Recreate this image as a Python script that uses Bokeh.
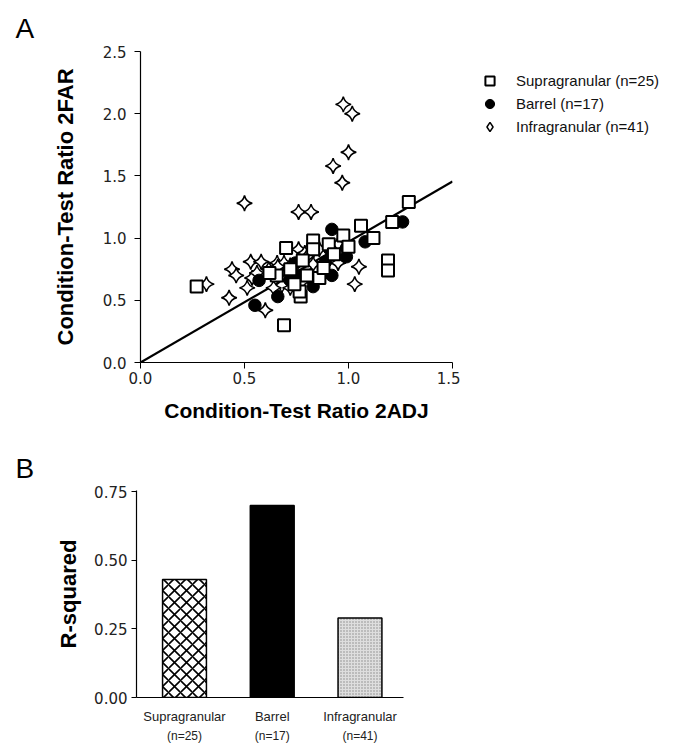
from bokeh.plotting import figure
from bokeh.layouts import column, row
from bokeh.models import (Legend, LegendItem, LinearAxis, FixedTicker,
                          NumeralTickFormatter, Range1d, Title)
from bokeh.embed import file_html
from bokeh.resources import INLINE

# ---------------- data (panel A) ----------------
supra_x = [0.27, 0.69, 0.70, 0.655, 0.83, 0.83, 0.77, 0.765, 0.975, 1.06, 1.12, 1.21, 1.29,
           1.19, 1.19, 0.905, 0.72, 0.78, 0.86, 0.93, 0.74, 0.62, 0.88, 1.00, 0.80]
supra_y = [0.61, 0.30, 0.92, 0.70, 0.98, 0.91, 0.53, 0.57, 1.02, 1.10, 1.00, 1.13, 1.29,
           0.82, 0.74, 0.95, 0.75, 0.82, 0.68, 0.87, 0.63, 0.72, 0.76, 0.93, 0.70]

barrel_x = [0.55, 0.57, 0.66, 0.72, 0.745, 0.76, 0.79, 0.83, 0.83, 0.89, 0.92, 0.91, 0.92,
            0.99, 0.99, 1.08, 1.26]
barrel_y = [0.46, 0.66, 0.53, 0.66, 0.80, 0.70, 0.70, 0.61, 0.66, 0.81, 1.07, 0.91, 0.70,
            0.85, 0.92, 0.97, 1.13]

infra_x = [0.975, 1.018, 1.00, 0.926, 0.97, 0.50, 0.76, 0.82, 0.317, 0.44, 0.46, 0.53, 0.58,
           0.617, 0.657, 0.69, 0.513, 0.426, 0.537, 0.60, 0.76, 1.05, 1.03, 0.777, 0.56,
           0.72, 0.79, 0.80, 0.70, 0.74, 0.85, 0.88, 0.68, 0.64, 0.72, 0.95, 0.90, 0.66,
           0.83, 0.95, 0.86]
infra_y = [2.075, 2.00, 1.69, 1.58, 1.445, 1.28, 1.21, 1.21, 0.63, 0.75, 0.70, 0.81, 0.81,
           0.75, 0.80, 0.80, 0.60, 0.52, 0.68, 0.42, 0.91, 0.77, 0.63, 0.65, 0.72,
           0.78, 0.88, 0.85, 0.72, 0.68, 0.75, 0.72, 0.62, 0.60, 0.60, 0.95, 0.93, 0.77,
           0.79, 0.80, 0.91]

fit_x = [0.0, 1.5]
fit_y = [0.0, 1.455]

legend_labels = ["Supragranular (n=25)", "Barrel (n=17)", "Infragranular (n=41)"]

# ---------------- data (panel B) ----------------
categories = ["Supragranular", "Barrel", "Infragranular"]
n_labels = ["(n=25)", "(n=17)", "(n=41)"]
r_squared = [0.43, 0.70, 0.29]
cat_pos = [0, 1, 2]

TICK_FONT = "DejaVu Sans"
LABEL_FONT = "Liberation Sans"

SUP_STYLE = dict(marker="square", fill_color="white", line_color="black", line_width=2)
BAR_STYLE = dict(marker="circle", fill_color="black", line_color="black")
INF_STYLE = dict(fill_color="white", line_color="black", line_width=1.5)

# ---------------- panel A ----------------
p = figure(width=460, height=440, x_range=Range1d(0, 1.5), y_range=Range1d(0, 2.5),
           output_backend="svg", toolbar_location=None,
           min_border_left=140, min_border_right=8, min_border_top=51, min_border_bottom=78)
p.frame_align = False
p.outline_line_color = None
p.grid.visible = False
p.title = Title(text="A", align="left", offset=-125, standoff=16,
                text_font=LABEL_FONT, text_font_size="28px",
                text_font_style="normal", text_color="black")

p.xaxis.ticker = FixedTicker(ticks=[0, 0.5, 1.0, 1.5])
p.yaxis.ticker = FixedTicker(ticks=[0, 0.5, 1.0, 1.5, 2.0, 2.5])
for ax in (p.xaxis[0], p.yaxis[0]):
    ax.formatter = NumeralTickFormatter(format="0.0")
    ax.major_tick_in = 0
    ax.major_tick_out = 6
    ax.minor_tick_line_color = None
    ax.axis_line_color = "black"
    ax.axis_line_width = 1.2
    ax.major_tick_line_color = "black"
    ax.major_label_text_font = TICK_FONT
    ax.major_label_text_font_size = "15px"
    ax.major_label_text_color = "#222222"
    ax.axis_label_text_font = LABEL_FONT
    ax.axis_label_text_font_style = "bold"
    ax.axis_label_text_color = "black"
p.xaxis.axis_label = "Condition-Test Ratio 2ADJ"
p.yaxis.axis_label = "Condition-Test Ratio 2FAR"
p.xaxis.axis_label_text_font_size = "21px"
p.yaxis.axis_label_text_font_size = "22px"
p.xaxis.major_label_standoff = 3
p.yaxis.major_label_standoff = 8
p.xaxis.axis_label_standoff = 12
p.yaxis.axis_label_standoff = 22

p.line(fit_x, fit_y, line_color="black", line_width=2.2)
p.scatter(infra_x, infra_y, marker="square_pin", angle=0.785398, size=11, **INF_STYLE)
p.scatter(barrel_x, barrel_y, size=12.5, **BAR_STYLE)
p.scatter(supra_x, supra_y, size=12, **SUP_STYLE)

# ---------------- legend (key) beside panel A ----------------
lg = figure(width=223, height=440, output_backend="svg", toolbar_location=None,
            x_axis_type=None, y_axis_type=None, min_border=0,
            x_range=Range1d(0, 1), y_range=Range1d(0, 1))
lg.frame_align = False
lg.outline_line_color = None
lg.grid.visible = False
# key renderers: one sample each, kept outside this key panel's visible range
key_x = [5]
key_y = [5]
k_sup = lg.scatter(x=key_x, y=key_y, size=11, **SUP_STYLE)
k_bar = lg.scatter(x=key_x, y=key_y, size=11, **BAR_STYLE)
k_inf = lg.scatter(x=key_x, y=key_y, marker="diamond", size=11, **INF_STYLE)
legend = Legend(items=[LegendItem(label=legend_labels[0], renderers=[k_sup]),
                       LegendItem(label=legend_labels[1], renderers=[k_bar]),
                       LegendItem(label=legend_labels[2], renderers=[k_inf])],
                location=(18, 302), orientation="vertical",
                glyph_width=23, glyph_height=23, label_height=23, spacing=0,
                label_standoff=15, padding=0, margin=0,
                border_line_color=None, background_fill_alpha=0,
                label_text_font=LABEL_FONT, label_text_font_size="15px",
                label_text_color="#111111")
lg.add_layout(legend)

# ---------------- panel B ----------------
q = figure(width=683, height=305, x_range=Range1d(-0.547, 2.496), y_range=Range1d(0, 0.755),
           output_backend="svg", toolbar_location=None,
           min_border_left=136, min_border_right=280, min_border_top=50, min_border_bottom=47)
q.frame_align = False
q.outline_line_color = None
q.grid.visible = False
q.title = Title(text="B", align="left", offset=-121, standoff=14,
                text_font=LABEL_FONT, text_font_size="28px",
                text_font_style="normal", text_color="black")

q.vbar(x=[cat_pos[0]], top=[r_squared[0]], width=0.5, fill_color="white",
       hatch_pattern="diagonal_cross", hatch_color="black", hatch_scale=12, hatch_weight=1.6,
       line_color="black", line_width=1.5)
q.vbar(x=[cat_pos[1]], top=[r_squared[1]], width=0.5, fill_color="black",
       line_color="black", line_width=1.5)
q.vbar(x=[cat_pos[2]], top=[r_squared[2]], width=0.5, fill_color="#dedede",
       hatch_pattern="dot", hatch_color="#8a8a8a", hatch_scale=3, hatch_weight=0.8,
       line_color="black", line_width=1.5)

ya = q.yaxis[0]
ya.ticker = FixedTicker(ticks=[0, 0.25, 0.5, 0.75])
ya.formatter = NumeralTickFormatter(format="0.00")
ya.major_tick_in = 0
ya.major_tick_out = 5
ya.minor_tick_line_color = None
ya.axis_line_width = 1.2
ya.major_label_text_font = TICK_FONT
ya.major_label_text_font_size = "15px"
ya.major_label_text_color = "#222222"
ya.major_label_standoff = 4
ya.axis_label = "R-squared"
ya.axis_label_text_font = LABEL_FONT
ya.axis_label_text_font_style = "bold"
ya.axis_label_text_font_size = "22px"
ya.axis_label_text_color = "black"
ya.axis_label_standoff = 10

xa = q.xaxis[0]
xa.ticker = FixedTicker(ticks=cat_pos)
xa.major_label_overrides = {cat_pos[i]: categories[i] for i in range(3)}
xa.major_tick_line_color = None
xa.major_tick_in = 0
xa.major_tick_out = 0
xa.minor_tick_line_color = None
xa.axis_line_width = 1.2
xa.major_label_text_font = LABEL_FONT
xa.major_label_text_font_size = "13px"
xa.major_label_text_color = "#222222"
xa.major_label_standoff = 11

xa2 = LinearAxis(ticker=FixedTicker(ticks=cat_pos),
                 major_label_overrides={cat_pos[i]: n_labels[i] for i in range(3)},
                 axis_line_color=None, major_tick_line_color=None, minor_tick_line_color=None,
                 major_tick_in=0, major_tick_out=0,
                 major_label_text_font=LABEL_FONT, major_label_text_font_size="12px",
                 major_label_text_color="#222222", major_label_standoff=2)
q.add_layout(xa2, "below")

layout = column(row(p, lg, spacing=0), q, spacing=0)
open("out.html", "w").write(file_html(layout, INLINE))
